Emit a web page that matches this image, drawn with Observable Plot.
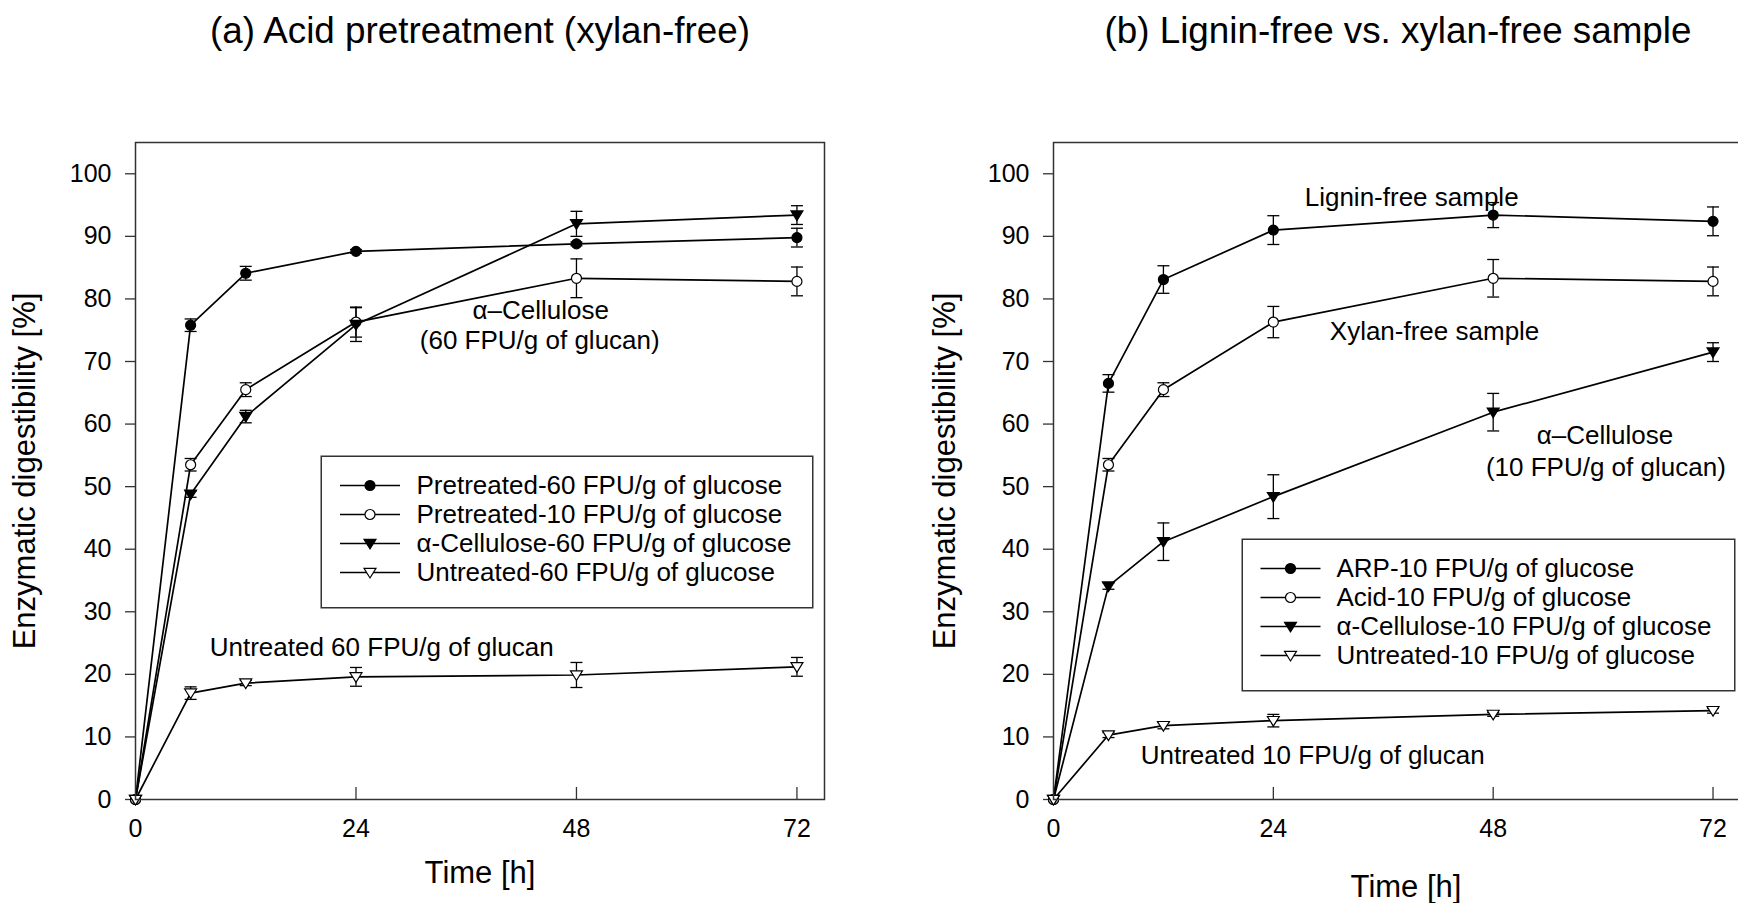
<!DOCTYPE html>
<html><head><meta charset="utf-8">
<script src="https://cdn.jsdelivr.net/npm/d3@7"></script>
<script src="https://cdn.jsdelivr.net/npm/@observablehq/plot@0.6"></script>
<style>
html,body{margin:0;padding:0;background:#fff;overflow:hidden;}
#wrap{position:relative;width:1738px;height:903px;overflow:hidden;background:#fff;}
.abs{position:absolute;}
</style></head><body><div id="wrap"></div>
<script>
// ---------- data ----------
const times = [0, 6, 12, 24, 48, 72];
const xTicks = [0, 24, 48, 72];
const yTicks = [0, 10, 20, 30, 40, 50, 60, 70, 80, 90, 100];

// panel (a)
const aTitle = "(a) Acid pretreatment (xylan-free)";
const aNames = ["Pretreated-60 FPU/g of glucose", "Pretreated-10 FPU/g of glucose", "\u03b1-Cellulose-60 FPU/g of glucose", "Untreated-60 FPU/g of glucose"];
const aPre60 = [0, 75.8, 84.1, 87.6, 88.8, 89.8];
const aPre60Err = [0, 1.0, 1.1, 0.3, 0.3, 1.5];
const aPre10 = [0, 53.5, 65.5, 76.3, 83.3, 82.8];
const aPre10Err = [0, 1.0, 1.1, 2.4, 3.1, 2.3];
const aCel60 = [0, 48.8, 61.2, 75.9, 92.0, 93.4];
const aCel60Err = [0, 0.5, 1.0, 2.7, 2.0, 1.5];
const aUnt60 = [0, 17.0, 18.6, 19.6, 19.9, 21.2];
const aUnt60Err = [0, 1.0, 0.4, 1.5, 2.0, 1.5];
const aAnnoText = ["\u03b1\u2013Cellulose", "(60 FPU/g of glucan)", "Untreated 60 FPU/g of glucan"];
const aAnnoX = [44.1, 44.0, 26.8];
const aAnnoY = [78.2, 73.4, 24.3];

// panel (b)
const bTitle = "(b) Lignin-free vs. xylan-free sample";
const bNames = ["ARP-10 FPU/g of glucose", "Acid-10 FPU/g of glucose", "\u03b1-Cellulose-10 FPU/g of glucose", "Untreated-10 FPU/g of glucose"];
const bArp10 = [0, 66.5, 83.1, 91.0, 93.4, 92.4];
const bArp10Err = [0, 1.4, 2.2, 2.3, 2.0, 2.3];
const bAcid10 = [0, 53.5, 65.5, 76.3, 83.3, 82.8];
const bAcid10Err = [0, 1.0, 1.1, 2.5, 3.0, 2.3];
const bCel10 = [0, 34.1, 41.2, 48.4, 61.9, 71.5];
const bCel10Err = [0, 0.5, 3.0, 3.5, 3.0, 1.5];
const bUnt10 = [0, 10.3, 11.8, 12.6, 13.6, 14.2];
const bUnt10Err = [0, 0.4, 0.5, 1.0, 0.3, 0.4];
const bAnnoText = ["Lignin-free sample", "Xylan-free sample", "\u03b1\u2013Cellulose", "(10 FPU/g of glucan)", "Untreated 10 FPU/g of glucan"];
const bAnnoX = [39.1, 41.6, 60.2, 60.3, 28.3];
const bAnnoY = [96.2, 74.8, 58.2, 53.1, 7.0];

const yLabel = "Enzymatic digestibility [%]";
const xLabel = "Time [h]";

// ---------- symbols ----------
const triDown = {draw(ctx, size) {
  const r = Math.sqrt(size / Math.PI);
  const w = r * 1.15, h1 = r * 0.8, h2 = r * 1.05;
  ctx.moveTo(-w, -h1); ctx.lineTo(w, -h1); ctx.lineTo(0, h2); ctx.closePath();
}};
const hLine = {draw(ctx, size) {
  const r = Math.sqrt(size / Math.PI);
  ctx.moveTo(-r, 0); ctx.lineTo(r, 0);
}};
const styles = [
  {symbol: "circle", fill: "black", r: 5},
  {symbol: "circle", fill: "white", r: 5},
  {symbol: triDown, fill: "black", r: 5.2},
  {symbol: triDown, fill: "white", r: 5.2}
];

const FONT = "'Liberation Sans', Arial, Helvetica, sans-serif";
const W = 869, H = 903, MT = 142, MB = 104;
const plotH = H - MT - MB;

function panel(opt) {
  const rows = opt.series.flatMap((s, k) => times.map((t, i) => ({k, name: s.name, t, v: s.values[i], e: s.errors[i]})));
  const errRows = rows.filter(d => d.e > 0);
  const annos = opt.annoText.map((text, i) => ({text, x: opt.annoX[i], y: opt.annoY[i]}));
  return Plot.plot({
    width: opt.width, height: H,
    marginLeft: opt.marginLeft, marginRight: opt.marginRight, marginTop: MT, marginBottom: MB,
    x: {domain: [0, 75]},
    y: {domain: [0, 105]},
    style: {fontFamily: FONT, fontSize: "25px", color: "black", background: "transparent", overflow: "visible", maxWidth: "none"},
    marks: [
      Plot.axisY({ticks: yTicks, tickSize: 10, tickPadding: 14, fontSize: 25, label: null, stroke: "#333", strokeWidth: 1.3, fill: "black"}),
      Plot.axisX({ticks: xTicks, tickSize: 0, tickPadding: 20, fontSize: 25, label: null, fill: "black"}),
      Plot.tickX(xTicks.filter(d => d > 0), {x: d => d, insetTop: plotH - 12, stroke: "#333", strokeWidth: 1.3}),
      Plot.line(rows, {x: "t", y: "v", z: "name", stroke: "black", strokeWidth: 1.7}),
      Plot.ruleX(errRows, {x: "t", y1: d => d.v - d.e, y2: d => d.v + d.e, stroke: "black", strokeWidth: 1.3}),
      Plot.dot(errRows, {x: "t", y: d => d.v + d.e, symbol: hLine, r: 6, stroke: "black", fill: "none", strokeWidth: 1.3}),
      Plot.dot(errRows, {x: "t", y: d => d.v - d.e, symbol: hLine, r: 6, stroke: "black", fill: "none", strokeWidth: 1.3}),
      ...styles.map((st, k) => Plot.dot(rows.filter(d => d.k === k), {x: "t", y: "v", symbol: st.symbol, r: st.r, fill: st.fill, stroke: "black", strokeWidth: 1.2})),
      Plot.text(annos, {x: "x", y: "y", text: "text", fontSize: 26, fill: "black"}),
      Plot.text([yLabel], {frameAnchor: "left", textAnchor: "middle", lineAnchor: "middle", dx: opt.yLabelDx, rotate: -90, fontSize: 31, fill: "black"}),
      Plot.text([xLabel], {frameAnchor: "bottom", textAnchor: "middle", lineAnchor: "middle", dx: opt.xLabelDx, dy: opt.xLabelDy, fontSize: 31, fill: "black"}),
      Plot.text([opt.title], {frameAnchor: "top", textAnchor: "middle", lineAnchor: "middle", dx: opt.titleDx, dy: -111, fontSize: 36.8, fill: "black"}),
      Plot.frame({stroke: "#333", strokeWidth: 1.5})
    ]
  });
}

function legend(labels, w, h, range, lineDx, textDx) {
  return Plot.plot({
    width: w, height: h, margin: 0,
    y: {type: "point", domain: labels, range, padding: 0, axis: null},
    style: {fontFamily: FONT, fontSize: "26px", color: "black", background: "white", overflow: "visible", maxWidth: "none"},
    marks: [
      Plot.frame({stroke: "#333", strokeWidth: 1.5, fill: "white", inset: 0.75}),
      Plot.dot(labels, {y: d => d, frameAnchor: "left", dx: lineDx, symbol: hLine, r: 30, stroke: "black", strokeWidth: 1.5, fill: "none"}),
      ...styles.map((st, k) => Plot.dot([labels[k]], {y: d => d, frameAnchor: "left", dx: lineDx, symbol: st.symbol, r: st.r, fill: st.fill, stroke: "black", strokeWidth: 1.2})),
      Plot.text(labels, {y: d => d, text: d => d, frameAnchor: "left", dx: textDx, textAnchor: "start", lineAnchor: "middle", fontSize: 26, fill: "black"})
    ]
  });
}

const wrap = document.getElementById("wrap");
function place(node, left, top) {
  const d = document.createElement("div");
  d.className = "abs";
  d.style.left = left + "px"; d.style.top = top + "px";
  d.appendChild(node);
  wrap.appendChild(d);
}

const pa = panel({
  width: W, marginLeft: 135, marginRight: 45, title: aTitle, titleDx: 0,
  xLabelDx: 0, xLabelDy: 74, yLabelDx: -110,
  series: [
    {name: aNames[0], values: aPre60, errors: aPre60Err},
    {name: aNames[1], values: aPre10, errors: aPre10Err},
    {name: aNames[2], values: aCel60, errors: aCel60Err},
    {name: aNames[3], values: aUnt60, errors: aUnt60Err}
  ],
  annoText: aAnnoText, annoX: aAnnoX, annoY: aAnnoY
});
const pb = panel({
  width: 871, marginLeft: 184, marginRight: 0, title: bTitle, titleDx: 1,
  xLabelDx: 9, xLabelDy: 88, yLabelDx: -108,
  series: [
    {name: bNames[0], values: bArp10, errors: bArp10Err},
    {name: bNames[1], values: bAcid10, errors: bAcid10Err},
    {name: bNames[2], values: bCel10, errors: bCel10Err},
    {name: bNames[3], values: bUnt10, errors: bUnt10Err}
  ],
  annoText: bAnnoText, annoX: bAnnoX, annoY: bAnnoY
});
place(pa, 0, 0);
place(pb, 869, 0);
place(legend(aNames, 493, 153, [29, 117], 49.5, 96), 320, 455);
place(legend(bNames, 494, 153, [30, 117], 49, 95), 1241, 538);
</script></body></html>
